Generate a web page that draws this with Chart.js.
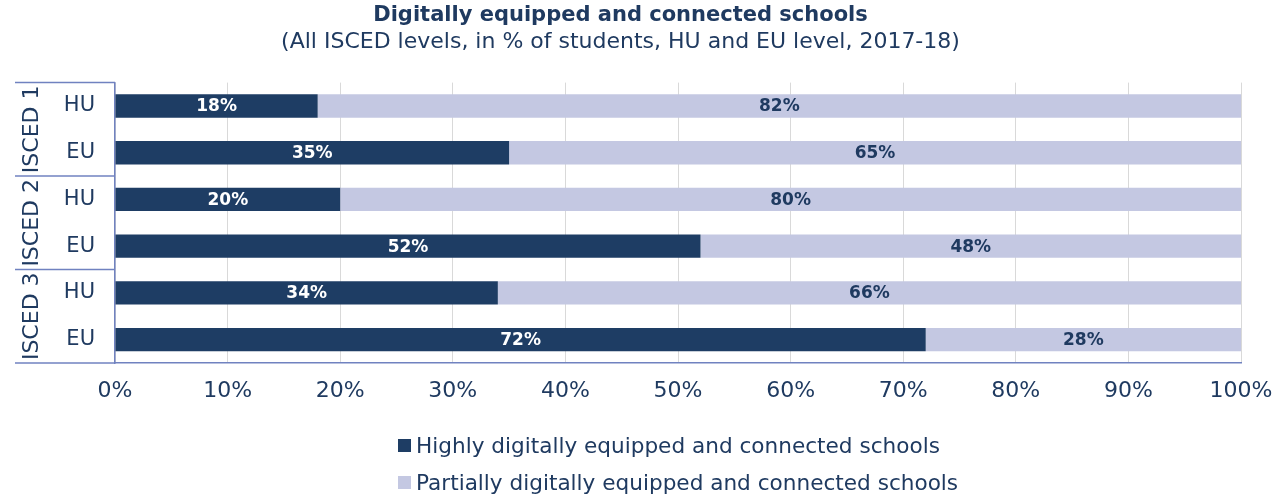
<!DOCTYPE html>
<html>
<head>
<meta charset="utf-8">
<script src="https://cdn.jsdelivr.net/npm/chart.js@4.4.1/dist/chart.umd.min.js"></script>
<style>
  html, body { margin: 0; padding: 0; background: #ffffff; }
  #wrap { position: relative; width: 1281px; height: 499px; }
  #legend { position: absolute; left: 398px; top: 427px; font-family: "DejaVu Sans", Verdana, sans-serif; font-size: 21.6px; color: #1f3a60; }
  .li { display: flex; align-items: center; height: 37px; }
  .box { width: 13px; height: 13px; margin-right: 5px; }
</style>
</head>
<body>
<div id="wrap">
  <canvas id="c" width="1281" height="499"></canvas>
  <div id="legend"></div>
</div>
<script>
const categories = ["HU", "EU", "HU", "EU", "HU", "EU"];
const groups = ["ISCED 1", "ISCED 2", "ISCED 3"];
const highly = [18, 35, 20, 52, 34, 72];
const partially = [82, 65, 80, 48, 66, 28];
const seriesNames = ["Highly digitally equipped and connected schools", "Partially digitally equipped and connected schools"];
const xTicks = [0, 10, 20, 30, 40, 50, 60, 70, 80, 90, 100];

const DARK = "#1e3d64";
const LIGHT = "#c4c8e2";
const TEXT = "#1f3a60";
const LINE = "#7082c0";
const FONT = "'DejaVu Sans', Verdana, sans-serif";

const labelsPlugin = {
  id: "barLabels",
  afterDatasetsDraw(chart) {
    const ctx = chart.ctx;
    ctx.save();
    ctx.font = "bold 17px " + FONT;
    ctx.textAlign = "center";
    ctx.textBaseline = "middle";
    chart.data.datasets.forEach((ds, di) => {
      const meta = chart.getDatasetMeta(di);
      meta.data.forEach((bar, i) => {
        const v = ds.data[i];
        const cx = (bar.x + bar.base) / 2;
        ctx.fillStyle = di === 0 ? "#ffffff" : TEXT;
        ctx.fillText(v + "%", cx, bar.y + 1);
      });
    });
    ctx.restore();
  }
};

const groupPlugin = {
  id: "groups",
  afterDraw(chart) {
    const ctx = chart.ctx;
    const area = chart.chartArea;
    const left = 15;
    const n = categories.length;
    const per = n / groups.length;
    const band = (area.bottom - area.top) / n;
    ctx.save();
    ctx.strokeStyle = LINE;
    ctx.lineWidth = 1.5;
    for (let g = 0; g <= groups.length; g++) {
      const yy = area.top + g * per * band;
      ctx.beginPath();
      ctx.moveTo(left, yy);
      ctx.lineTo(area.left, yy);
      ctx.stroke();
    }
    ctx.fillStyle = TEXT;
    ctx.font = "22px " + FONT;
    ctx.textAlign = "center";
    ctx.textBaseline = "middle";
    groups.forEach((gname, g) => {
      const yc = area.top + (g + 0.5) * per * band;
      ctx.save();
      ctx.translate(32, yc);
      ctx.rotate(-Math.PI / 2);
      ctx.fillText(gname, 0, 0);
      ctx.restore();
    });
    ctx.restore();
  }
};

const chart = new Chart(document.getElementById("c"), {
  type: "bar",
  data: {
    labels: categories,
    datasets: [
      { label: seriesNames[0], data: highly, backgroundColor: DARK, borderWidth: 0 },
      { label: seriesNames[1], data: partially, backgroundColor: LIGHT, borderWidth: 0 }
    ]
  },
  options: {
    indexAxis: "y",
    responsive: false,
    animation: false,
    layout: { padding: { left: 0, right: 40, top: 0, bottom: 0 } },
    datasets: { bar: { categoryPercentage: 1.0, barPercentage: 0.5 } },
    plugins: {
      legend: { display: false },
      tooltip: { enabled: false },
      title: {
        display: true,
        text: "Digitally equipped and connected schools",
        color: TEXT,
        font: { family: FONT, size: 21, weight: "bold" },
        padding: { top: 3, bottom: 1 }
      },
      subtitle: {
        display: true,
        text: "(All ISCED levels, in % of students, HU and EU level, 2017-18)",
        color: TEXT,
        font: { family: FONT, size: 22 },
        padding: { top: 0, bottom: 27 }
      }
    },
    scales: {
      x: {
        stacked: true,
        min: 0,
        max: 100,
        afterBuildTicks: (s) => { s.ticks = xTicks.map(v => ({ value: v })); },
        afterFit: (s) => { s.height = 136; s.paddingLeft = 0; s.paddingRight = 0; },
        ticks: {
          color: TEXT,
          font: { family: FONT, size: 22 },
          padding: 15,
          callback: (v) => v + "%"
        },
        grid: { color: "#d9d9d9", lineWidth: 1, drawTicks: false },
        border: { color: LINE, width: 1.5 }
      },
      y: {
        stacked: true,
        afterFit: (s) => { s.width = 115; },
        ticks: {
          color: TEXT,
          font: { family: FONT, size: 21 },
          padding: 20
        },
        grid: { display: false, drawTicks: false },
        border: { color: LINE, width: 1.5 }
      }
    }
  },
  plugins: [labelsPlugin, groupPlugin]
});

const leg = document.getElementById("legend");
chart.data.datasets.forEach(ds => {
  const row = document.createElement("div");
  row.className = "li";
  const b = document.createElement("span");
  b.className = "box";
  b.style.background = ds.backgroundColor;
  const t = document.createElement("span");
  t.textContent = ds.label;
  row.appendChild(b);
  row.appendChild(t);
  leg.appendChild(row);
});
</script>
</body>
</html>
